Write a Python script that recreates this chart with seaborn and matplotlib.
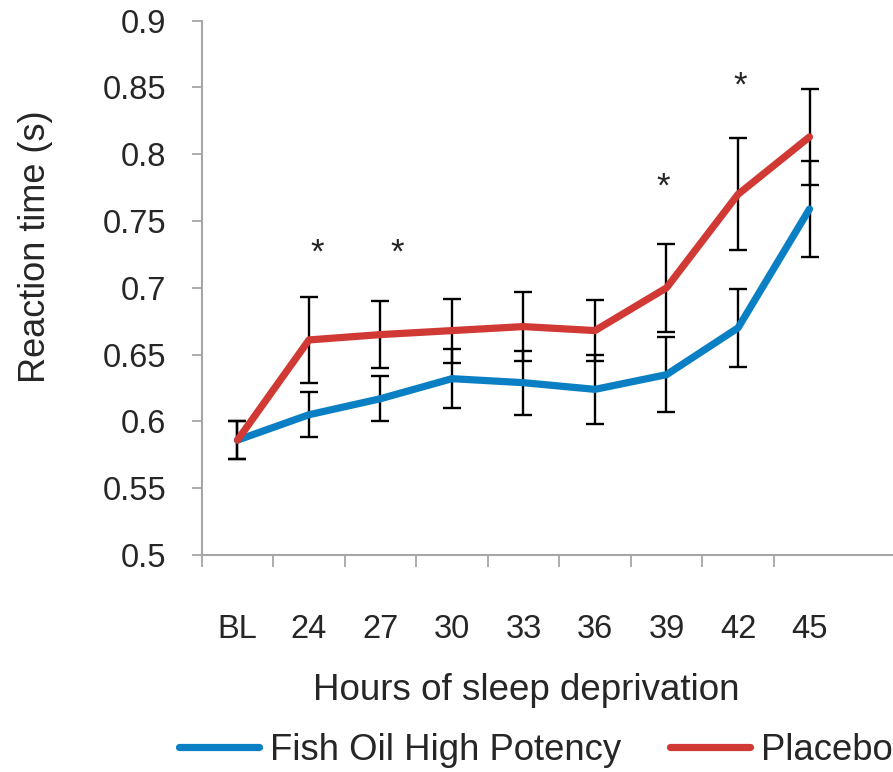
# Reaction time across sleep deprivation: fish oil vs placebo
import numpy as np
import pandas as pd
import matplotlib
matplotlib.use("Agg")
import matplotlib.pyplot as plt
import seaborn as sns

# Data
hours = ["BL", "24", "27", "30", "33", "36", "39", "42", "45"]
fish_mean = [0.586, 0.605, 0.617, 0.632, 0.629, 0.624, 0.635, 0.670, 0.759]
fish_err = [0.014, 0.017, 0.017, 0.022, 0.024, 0.026, 0.028, 0.029, 0.036]
placebo_mean = [0.586, 0.661, 0.665, 0.668, 0.671, 0.668, 0.700, 0.770, 0.813]
placebo_err = [0.014, 0.032, 0.025, 0.024, 0.026, 0.023, 0.033, 0.042, 0.036]
groups = ["Fish Oil High Potency", "Placebo"]

# significance stars (category position, baseline value)
star_x = [1.11, 2.23, 5.95, 7.03]
star_y = [0.719, 0.719, 0.768, 0.844]

colors = {"Fish Oil High Potency": "#0A7FC4", "Placebo": "#D13A34"}
grey = "#A6A6A6"

pos = np.arange(len(hours))
df = pd.DataFrame({
    "pos": np.concatenate([pos, pos]),
    "rt": fish_mean + placebo_mean,
    "err": fish_err + placebo_err,
    "group": [groups[0]] * len(hours) + [groups[1]] * len(hours),
})

sns.set_style("white")
plt.rcParams["font.family"] = ["Liberation Sans", "DejaVu Sans"]

fig = plt.figure(figsize=(8.93, 7.72), dpi=100)
ax = fig.add_axes([0.2259, 0.2811, 0.8007, 0.6921])

# error bars under the lines
for g in groups:
    sub = df[df["group"] == g]
    ax.errorbar(sub["pos"], sub["rt"], yerr=sub["err"], fmt="none",
                ecolor="black", elinewidth=1.7, capsize=6.5, capthick=1.7,
                zorder=2)

sns.lineplot(data=df, x="pos", y="rt", hue="group", hue_order=groups,
             palette=colors, linewidth=5.2, ax=ax, zorder=3,
             solid_capstyle="round")

for x, y in zip(star_x, star_y):
    ax.text(x, y, "*", ha="center", va="baseline", fontsize=25)

ax.set_xlim(-0.5, 9.5)
ax.set_ylim(0.5, 0.9)
ax.set_yticks(np.arange(0.5, 0.901, 0.05))
ax.set_yticklabels(["0.5", "0.55", "0.6", "0.65", "0.7", "0.75", "0.8", "0.85", "0.9"])
ax.set_xticks(pos)
ax.set_xticklabels(hours)
ax.set_xticks(np.arange(-0.5, 8, 1.0), minor=True)

ax.tick_params(axis="y", which="major", direction="out", length=7, width=1.3,
               color=grey, pad=18.5, labelsize=23.5, left=True)
ax.tick_params(axis="x", which="major", length=0, pad=42.5, labelsize=23.5)
ax.tick_params(axis="x", which="minor", direction="out", length=8.5,
               width=1.3, color=grey, bottom=True)

for side in ["top", "right"]:
    ax.spines[side].set_visible(False)
for side in ["left", "bottom"]:
    ax.spines[side].set_color(grey)
    ax.spines[side].set_linewidth(1.5)

ax.set_xlabel("Hours of sleep deprivation", fontsize=26.5, va="center")
ax.xaxis.set_label_coords(0.4536, -0.2527)
ax.set_ylabel("Reaction time (s)", fontsize=26, va="center")
ax.yaxis.set_label_coords(-0.2331, 0.5765)

handles, labels = ax.get_legend_handles_labels()
ax.get_legend().remove()
for h in handles:
    h.set_linewidth(5.2)
    h.set_solid_capstyle("round")
fig.legend(handles, labels, loc="center left", bbox_to_anchor=(0.2, 0.028),
           ncol=2, frameon=False, fontsize=26.3, handlelength=2.2,
           handletextpad=0.3, columnspacing=1.33, borderpad=0,
           borderaxespad=0)

fig.savefig("out.png", dpi=100)
